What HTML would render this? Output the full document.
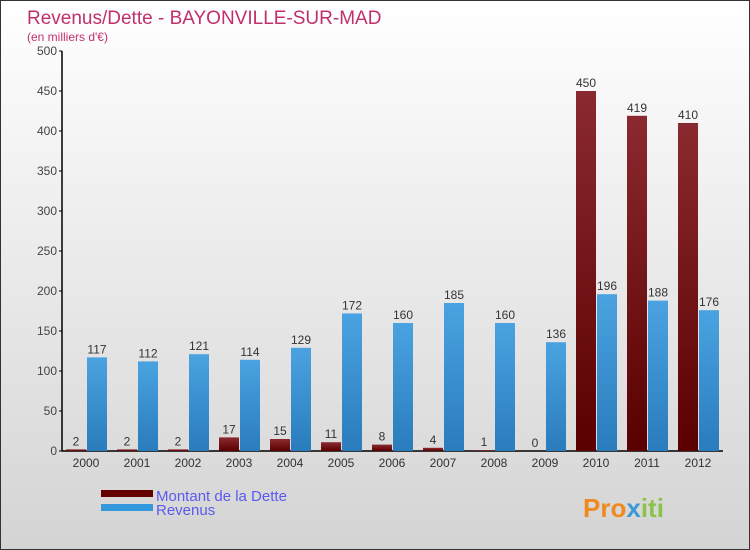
<!DOCTYPE html>
<html><head><meta charset="utf-8"><style>
body{margin:0}
#c{position:relative;width:750px;height:550px;overflow:hidden;box-sizing:border-box;border:1px solid #333;background:linear-gradient(#fff,#d4d4d4);font-family:"Liberation Sans",sans-serif}
</style></head><body>
<div id="c">
<svg width="750" height="550" style="position:absolute;left:0;top:0">
<defs>
<linearGradient id="gd" x1="0" y1="0" x2="0" y2="1"><stop offset="0" stop-color="#8a2a30"/><stop offset="1" stop-color="#5a0000"/></linearGradient>
<linearGradient id="gr" x1="0" y1="0" x2="0" y2="1"><stop offset="0" stop-color="#4aa3e0"/><stop offset="1" stop-color="#2a7cbc"/></linearGradient>
</defs>
<text x="26" y="23" font-size="19" fill="#c0306a">Revenus/Dette - BAYONVILLE-SUR-MAD</text>
<text x="26" y="40" font-size="12" fill="#c0306a">(en milliers d'€)</text>
<g id="plot"></g>
<rect x="100" y="489" width="52" height="7" fill="#650000"/>
<rect x="100" y="503" width="52" height="7" fill="#3498dd"/>
<text x="155" y="500" font-size="15" fill="#5a5aee">Montant de la Dette</text>
<text x="155" y="514" font-size="15" fill="#5a5aee">Revenus</text>
<text x="582" y="516" font-size="26" font-weight="bold" fill="#f08a20">Pro<tspan fill="#3a9ad8">x</tspan><tspan fill="#8bc34a">iti</tspan></text>
</svg>
</div>
<script>
const years=["2000","2001","2002","2003","2004","2005","2006","2007","2008","2009","2010","2011","2012"];
const dette=[2,2,2,17,15,11,8,4,1,0,450,419,410];
const revenus=[117,112,121,114,129,172,160,185,160,136,196,188,176];
const ticks=[0,50,100,150,200,250,300,350,400,450,500];
const NS="http://www.w3.org/2000/svg";
const g=document.getElementById('plot');
const y=v=>450-v*0.8;
const xc=i=>85+i*51;
function mk(t,a,txt){const e=document.createElementNS(NS,t);for(const k in a)e.setAttribute(k,a[k]);if(txt!==undefined)e.textContent=txt;g.appendChild(e);return e;}
let ax=mk('line',{x1:61,y1:50,x2:61,y2:450,stroke:'#000','stroke-width':1.5});


let bx=mk('line',{x1:61,y1:450,x2:722,y2:450,stroke:'#000','stroke-width':1.5});


ticks.forEach(t=>{
 let l=mk('line',{x1:58,y1:y(t),x2:61,y2:y(t),stroke:'#000'});
 
 
 let tx=mk('text',{x:56,y:y(t)+4,'text-anchor':'end','font-size':12,fill:'#444'},t);
 
 
});
years.forEach((yr,i)=>{
 const c=xc(i);
 let tl=mk('text',{x:c,y:466,'text-anchor':'middle','font-size':12,fill:'#333'},yr);
 
 
 let b1=mk('rect',{x:c-20,y:y(dette[i]),width:20,height:dette[i]*0.8,fill:'url(#gd)'});
 
 
 let b2=mk('rect',{x:c+1,y:y(revenus[i]),width:20,height:revenus[i]*0.8,fill:'url(#gr)'});
 
 
 let v1=mk('text',{x:c-10,y:y(dette[i])-4,'text-anchor':'middle','font-size':12,fill:'#333'},dette[i]);
 
 
 let v2=mk('text',{x:c+11,y:y(revenus[i])-4,'text-anchor':'middle','font-size':12,fill:'#333'},revenus[i]);
 
 
});
</script>
</body></html>
